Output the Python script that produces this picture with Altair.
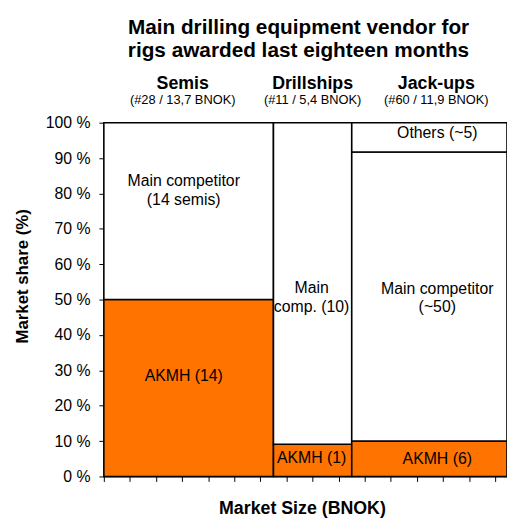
import altair as alt
import pandas as pd

FONT = "Liberation Sans"

# ---- data ----
segments = ["Semis", "Drillships", "Jack-ups"]
sub_labels = ["(#28 / 13,7 BNOK)", "(#11 / 5,4 BNOK)", "(#60 / 11,9 BNOK)"]
market_size = [13.0, 6.0, 11.9]          # column widths as drawn (BNOK)
akmh_share = [50.0, 9.1, 10.0]           # % AKMH
others_share = [0.0, 0.0, 8.3]           # % Others
akmh_labels = ["AKMH (14)", "AKMH (1)", "AKMH (6)"]
comp_labels = ["Main competitor\n(14 semis)", "Main\ncomp. (10)", "Main competitor\n(~50)"]
others_labels = ["", "", "Others (~5)"]
y_ticks = list(range(0, 101, 10))
x_ticks = list(range(0, 31, 2))
title_lines = ["Main drilling equipment vendor for", "rigs awarded last eighteen months"]

rows = []
start = 0.0
for i, seg in enumerate(segments):
    end = start + market_size[i]
    a, o = akmh_share[i], others_share[i]
    rows.append(dict(segment=seg, vendor="AKMH", x0=start, x1=end, y0=0.0, y1=a, label=akmh_labels[i]))
    rows.append(dict(segment=seg, vendor="Main competitor", x0=start, x1=end, y0=a, y1=100.0 - o, label=comp_labels[i]))
    if o > 0:
        rows.append(dict(segment=seg, vendor="Others", x0=start, x1=end, y0=100.0 - o, y1=100.0, label=others_labels[i]))
    start = end
df = pd.DataFrame(rows)
df["xm"] = (df["x0"] + df["x1"]) / 2
df["ym"] = (df["y0"] + df["y1"]) / 2

hdr = pd.DataFrame({"segment": segments, "sub": sub_labels})
hdr = hdr.merge(df.groupby("segment", as_index=False)["xm"].first(), on="segment")

x_scale = alt.Scale(domain=[0, sum(market_size)], nice=False, zero=True)
y_scale = alt.Scale(domain=[0, 100], nice=False)

x_axis = alt.Axis(values=x_ticks, labels=False, tickSize=5, grid=False, labelOverlap=False,
                  title="Market Size (BNOK)", titleFontSize=18, titleFontWeight="bold",
                  titleX=200.5, titleY=38, titleBaseline="alphabetic", titleAlign="center")
y_axis = alt.Axis(values=y_ticks, labelExpr="datum.value + ' %'", tickSize=5,
                  labelPadding=9, labelFontSize=16, grid=False, labelOverlap=False,
                  title="Market share (%)", titleFontSize=17, titleFontWeight="bold",
                  titleX=-77, titleY=155, titleAngle=270, titleBaseline="alphabetic",
                  titleAlign="center")

rects = alt.Chart(df).mark_rect(stroke="black", strokeWidth=1.6).encode(
    x=alt.X("x0:Q", scale=x_scale, axis=x_axis),
    x2="x1",
    y=alt.Y("y0:Q", scale=y_scale, axis=y_axis),
    y2="y1",
    color=alt.Color("vendor:N",
                    scale=alt.Scale(domain=["AKMH", "Main competitor", "Others"],
                                    range=["#FF7300", "#FFFFFF", "#FFFFFF"]),
                    legend=None),
)

# label nudges (style): (dx, dy) per segment/vendor
nudges = {
    ("Semis", "AKMH"): (-5, -12), ("Semis", "Main competitor"): (-5, -30),
    ("Drillships", "AKMH"): (-1, -2), ("Drillships", "Main competitor"): (-1, 5),
    ("Jack-ups", "AKMH"): (8, 0), ("Jack-ups", "Main competitor"): (8, -8),
    ("Jack-ups", "Others"): (8, -4),
}
labels = []
for (seg, ven), (dx, dy) in nudges.items():
    labels.append(
        alt.Chart(df).transform_filter(
            (alt.datum.segment == seg) & (alt.datum.vendor == ven)
        ).mark_text(font=FONT, fontSize=16, color="black", lineBreak="\n", lineHeight=19,
                    align="center", baseline="middle", dx=dx, dy=dy).encode(
            x=alt.X("xm:Q", scale=x_scale, axis=x_axis),
            y=alt.Y("ym:Q", scale=y_scale, axis=y_axis),
            text="label:N",
        )
    )

hdr_dx = {"Semis": -6, "Drillships": 0, "Jack-ups": 7}
headers = []
for seg, dx in hdr_dx.items():
    base = alt.Chart(hdr).transform_filter(alt.datum.segment == seg)
    headers.append(base.mark_text(font=FONT, fontSize=18, fontWeight="bold", color="black",
                                  align="center", baseline="alphabetic", dx=dx).encode(
        x=alt.X("xm:Q", scale=x_scale, axis=x_axis), y=alt.value(-34), text="segment:N"))
    headers.append(base.mark_text(font=FONT, fontSize=13, color="black",
                                  align="center", baseline="alphabetic", dx=dx).encode(
        x=alt.X("xm:Q", scale=x_scale, axis=x_axis), y=alt.value(-18.5), text="sub:N"))

title = alt.Chart(pd.DataFrame({"t": [0]})).mark_text(
    text=title_lines, font=FONT, fontSize=21, fontWeight="bold", color="black",
    align="center", baseline="alphabetic", lineHeight=24,
).encode(x=alt.value(197), y=alt.value(-90))

chart = alt.layer(rects, *labels, *headers, title).properties(
    width=408, height=358,
    padding={"left": 97, "top": 113, "right": 0, "bottom": 42},
    autosize=alt.AutoSizeParams(type="none"),
).configure_view(stroke=None).configure_axis(
    domainColor="black", tickColor="black", labelColor="black", titleColor="black",
    labelFont=FONT, titleFont=FONT, domainWidth=1, tickWidth=1,
)

chart.save("out.html", embed_options={"renderer": "svg", "actions": False})
